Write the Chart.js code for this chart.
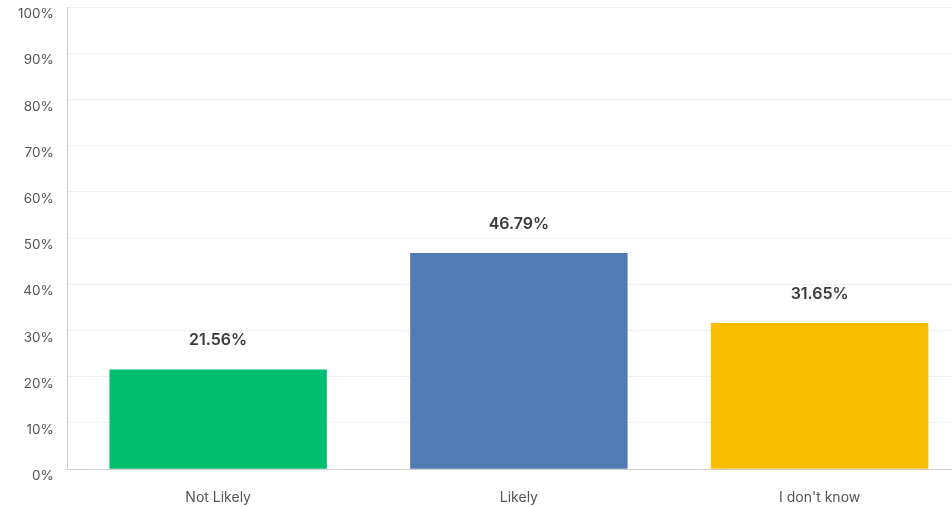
<!DOCTYPE html>
<html>
<head>
<meta charset="utf-8">
<script src="https://cdn.jsdelivr.net/npm/chart.js@4.4.1/dist/chart.umd.min.js"></script>
<style>
  html, body { margin: 0; padding: 0; background: #fff; overflow: hidden; }
  #wrap { position: relative; width: 970px; height: 507px; }
</style>
</head>
<body>
<div id="wrap"><canvas id="chart"></canvas></div>
<script>
const categories = ['Not Likely', 'Likely', "I don't know"];
const percentages = [21.56, 46.79, 31.65];
const barColors = ['#00bf6f', '#507cb6', '#f9be00'];
const yTicks = [0, 10, 20, 30, 40, 50, 60, 70, 80, 90, 100];

// labels above each bar
const valueLabels = {
    id: 'valueLabels',
    afterDatasetsDraw(chart) {
        const ctx = chart.ctx;
        const meta = chart.getDatasetMeta(0);
        ctx.save();
        ctx.font = '600 16px Inter, "Open Sans", sans-serif';
        ctx.fillStyle = '#3a3a3a';
        ctx.textAlign = 'center';
        ctx.textBaseline = 'middle';
        meta.data.forEach((bar, i) => {
            ctx.fillText(percentages[i].toFixed(2) + '%', bar.x, bar.y - 29);
        });
        ctx.restore();
    }
};

new Chart(document.getElementById('chart'), {
    type: 'bar',
    data: {
        labels: categories,
        datasets: [{
            data: percentages,
            backgroundColor: barColors,
            borderWidth: 0,
            categoryPercentage: 1,
            barPercentage: 0.723
        }]
    },
    options: {
        responsive: true,
        maintainAspectRatio: false,
        animation: false,
        layout: { padding: { top: 7, left: 4, right: 0, bottom: -19 } },
        plugins: {
            legend: { display: false },
            tooltip: { enabled: false }
        },
        scales: {
            x: {
                grid: { display: false, drawTicks: false },
                border: { color: '#d0d0d0', width: 1 },
                ticks: {
                    color: '#555',
                    font: { family: 'Inter, "Open Sans", sans-serif', size: 14 },
                    padding: 20
                }
            },
            y: {
                min: 0,
                max: 100,
                afterBuildTicks(axis) {
                    axis.ticks = yTicks.map(v => ({ value: v }));
                },
                afterFit(axis) {
                    axis.paddingTop = 0;
                },
                grid: { color: '#f0f0f0', drawTicks: false },
                border: { color: '#c8c8c8', width: 1 },
                ticks: {
                    color: '#555',
                    font: { family: 'Inter, "Open Sans", sans-serif', size: 13.5 },
                    padding: 14,
                    labelOffset: 7,
                    callback: v => v + '%'
                }
            }
        }
    },
    plugins: [valueLabels]
});
</script>
</body>
</html>
